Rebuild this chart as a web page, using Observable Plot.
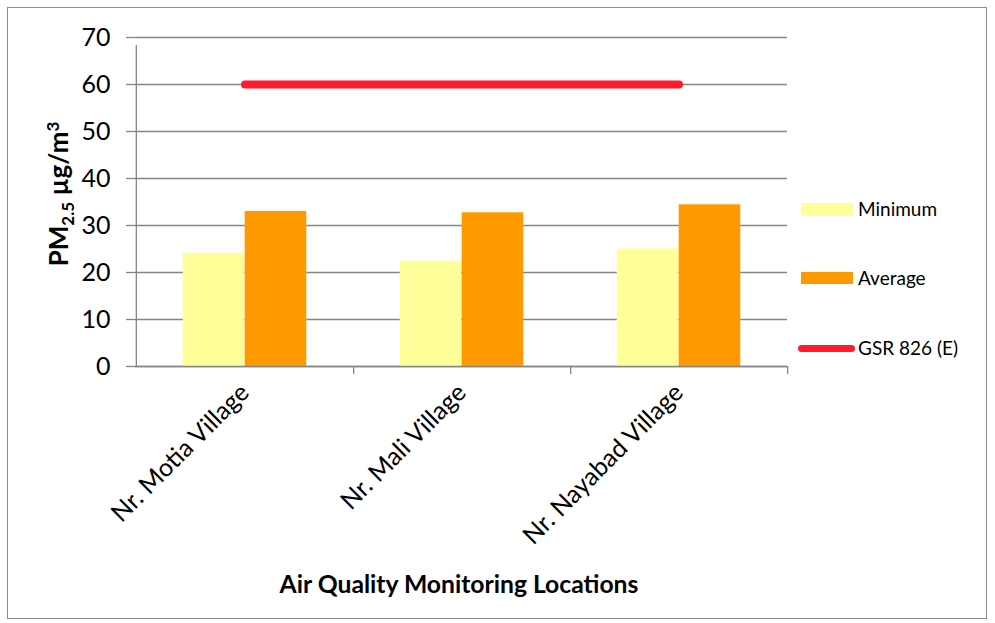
<!DOCTYPE html>
<html>
<head>
<meta charset="utf-8">
<script src="https://cdn.jsdelivr.net/npm/d3@7"></script>
<script src="https://cdn.jsdelivr.net/npm/@observablehq/plot@0.6"></script>
<style>
  html, body { margin: 0; padding: 0; background: #fff; }
  #wrap { position: relative; width: 995px; height: 623px; font-family: Lato, "Open Sans", sans-serif; color: #000; overflow: hidden; }
  #border { position: absolute; left: 7px; top: 7px; width: 980px; height: 612px; border: 1px solid #8c8c8c; box-sizing: border-box; pointer-events: none; }
  #chart { position: absolute; left: 0; top: 0; }
  .ytitle { position: absolute; left: 60px; top: 194px; transform: translate(-50%, -50%) rotate(-90deg); font-weight: bold; font-size: 26px; white-space: nowrap; }
  .ytitle sub, .ytitle sup { font-size: 17px; }
  .xtitle { position: absolute; left: 459px; top: 583px; transform: translate(-50%, -50%); font-weight: bold; font-size: 24.7px; white-space: nowrap; }
  .leg { position: absolute; font-size: 19px; white-space: nowrap; }
  .sw { position: absolute; }
  #chart svg g[aria-label="y-axis tick label"] text { font-size: 25px; }
  #chart svg g[aria-label="x-axis tick label"] text { font-size: 25px; }
</style>
</head>
<body>
<div id="wrap">
  <div id="chart"></div>
  <div class="ytitle">PM<sub>2.5</sub> µg/m<sup>3</sup></div>
  <div class="xtitle">Air Quality Monitoring Locations</div>
  <div id="legend"></div>
  <div id="border"></div>
</div>
<script>
const categories = ["Nr. Motia Village", "Nr. Mali Village", "Nr. Nayabad Village"];
const minimum = [24.1, 22.4, 25.0];
const average = [33.0, 32.7, 34.4];
const gsrLimit = [60, 60, 60];
const yTicks = [0, 10, 20, 30, 40, 50, 60, 70];
const seriesNames = ["Minimum", "Average", "GSR 826 (E)"];
const seriesColors = ["#FFFF99", "#FF9900", "#FF1A2E"];

const W = 995, H = 623, ML = 135, MR = 208, MT = 37, MB = 257;
const bw = (W - ML - MR) / categories.length;

const rows = categories.map((c, i) => ({cat: c, min: minimum[i], avg: average[i], gsr: gsrLimit[i]}));
const gridC = "#868686";

const chart = Plot.plot({
  width: W, height: H,
  marginLeft: ML, marginRight: MR, marginTop: MT, marginBottom: MB,
  style: {fontFamily: "Lato, 'Open Sans', sans-serif", fontSize: "25px", color: "#000", background: "transparent", overflow: "visible"},
  x: {domain: categories, padding: 0, label: null},
  y: {domain: [0, 70], label: null},
  marks: [
    Plot.gridY(yTicks, {stroke: gridC, strokeOpacity: 1, strokeWidth: 1.3}),
    Plot.barY(rows, {x: "cat", y: "min", fill: seriesColors[0], insetLeft: bw * 0.215, insetRight: bw * 0.5}),
    Plot.barY(rows, {x: "cat", y: "avg", fill: seriesColors[1], insetLeft: bw * 0.5, insetRight: bw * 0.215}),
    Plot.lineY(rows, {x: "cat", y: "gsr", stroke: seriesColors[2], strokeWidth: 8, strokeLinecap: "round"}),
    Plot.ruleY([0], {stroke: gridC, strokeWidth: 1.3}),
    Plot.ruleX([categories[0]], {x: d => d, dx: -bw / 2, y1: 0, y2: 70, insetBottom: -8, stroke: gridC, strokeWidth: 1.3}),
    Plot.ruleX(categories, {x: d => d, dx: bw / 2, y1: 0, y2: 0, insetBottom: -8, stroke: gridC, strokeWidth: 1.3}),
    Plot.axisY(yTicks, {tickSize: 9, tickPadding: 16, stroke: gridC, strokeWidth: 1.3, fontSize: 25, label: null}),
    Plot.axisX({tickSize: 0, tickPadding: 22, tickRotate: -45, fontSize: 25, label: null})
  ]
});
document.getElementById("chart").appendChild(chart);

// legend
const leg = document.getElementById("legend");
const legY = [209, 278, 348];
seriesNames.forEach((name, i) => {
  const sw = document.createElement("div");
  sw.className = "sw";
  if (i < 2) {
    Object.assign(sw.style, {left: "801px", top: (legY[i] - 6) + "px", width: "52px", height: "12px", background: seriesColors[i]});
  } else {
    Object.assign(sw.style, {left: "798px", top: (legY[i] - 3.5) + "px", width: "57px", height: "7px", background: seriesColors[i], borderRadius: "4px"});
  }
  leg.appendChild(sw);
  const t = document.createElement("div");
  t.className = "leg";
  t.textContent = name;
  Object.assign(t.style, {left: "858px", top: (legY[i] - 12) + "px"});
  leg.appendChild(t);
});
</script>
</body>
</html>
